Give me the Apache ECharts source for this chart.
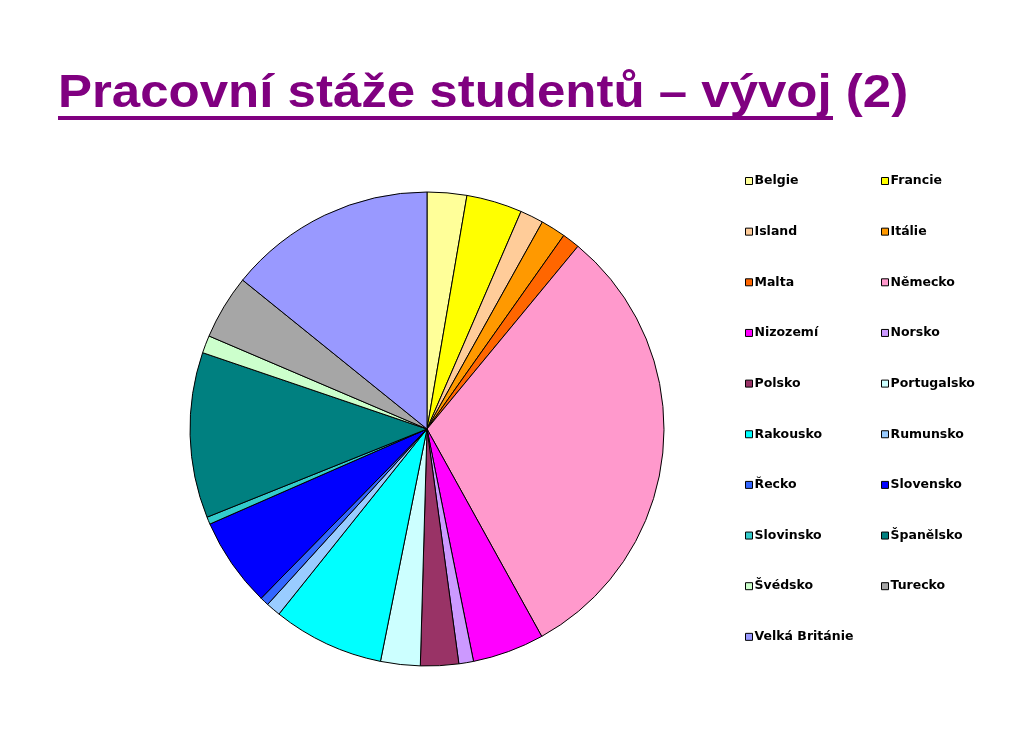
<!DOCTYPE html>
<html>
<head>
<meta charset="utf-8">
<script src="https://cdn.jsdelivr.net/npm/echarts@6/dist/echarts.min.js"></script>
<style>
html,body{margin:0;padding:0;background:#fff;}
#c{width:1019px;height:735px;}
</style>
</head>
<body>
<div id="c"></div>
<script>
// Data (share in %)
const countries = ["Belgie","Francie","Island","Itálie","Malta","Německo","Nizozemí","Norsko","Polsko","Portugalsko","Rakousko","Rumunsko","Řecko","Slovensko","Slovinsko","Španělsko","Švédsko","Turecko","Velká Británie"];
const values = [2.7,3.8,1.6,1.7,1.2,31.0,4.9,1.0,2.6,2.7,7.6,1.0,0.6,6.1,0.5,11.3,1.2,4.4,14.2];
const colors = ["#FFFF99","#FFFF00","#FFCC99","#FF9900","#FF6600","#FF99CC","#FF00FF","#CC99FF","#993366","#CCFFFF","#00FFFF","#99CCFF","#3366FF","#0000FF","#33CCCC","#008080","#CCFFCC","#A6A6A6","#9999FF"];
const titleText = "Pracovní stáže studentů – vývoj (2)";

const leftCol = countries.filter((_, i) => i % 2 === 0);
const rightCol = countries.filter((_, i) => i % 2 === 1);

const chart = echarts.init(document.getElementById('c'), null, {renderer: 'canvas'});
const legendBase = {
  orient: 'vertical',
  top: 174.5,
  padding: 0,
  itemWidth: 7,
  itemHeight: 7,
  itemGap: 37.65,
  icon: 'rect',
  selectedMode: false,
  itemStyle: {borderColor: '#000', borderWidth: 1},
  textStyle: {fontFamily: 'DejaVu Sans', fontWeight: 'bold', fontSize: 12.5, lineHeight: 12, color: '#000', padding: [0,0,0,-3]}
};
chart.setOption({
  animation: false,
  backgroundColor: '#fff',
  color: colors,
  graphic: [
    {type: 'text', left: 58, top: 71, scaleX: 1.085,
     style: {text: titleText, font: 'bold 47px "Liberation Sans", Arial', fill: '#800080'}},
    {type: 'rect', shape: {x: 58, y: 116, width: 775, height: 4}, style: {fill: '#800080'}}
  ],
  legend: [
    Object.assign({}, legendBase, {left: 745, data: leftCol}),
    Object.assign({}, legendBase, {left: 881, data: rightCol})
  ],
  series: [{
    type: 'pie',
    center: [427, 429],
    radius: [0, 237],
    startAngle: 90,
    clockwise: true,
    label: {show: false},
    labelLine: {show: false},
    itemStyle: {borderColor: '#000', borderWidth: 1},
    emphasis: {disabled: true},
    data: countries.map((n, i) => ({name: n, value: values[i]}))
  }]
});
</script>
</body>
</html>
